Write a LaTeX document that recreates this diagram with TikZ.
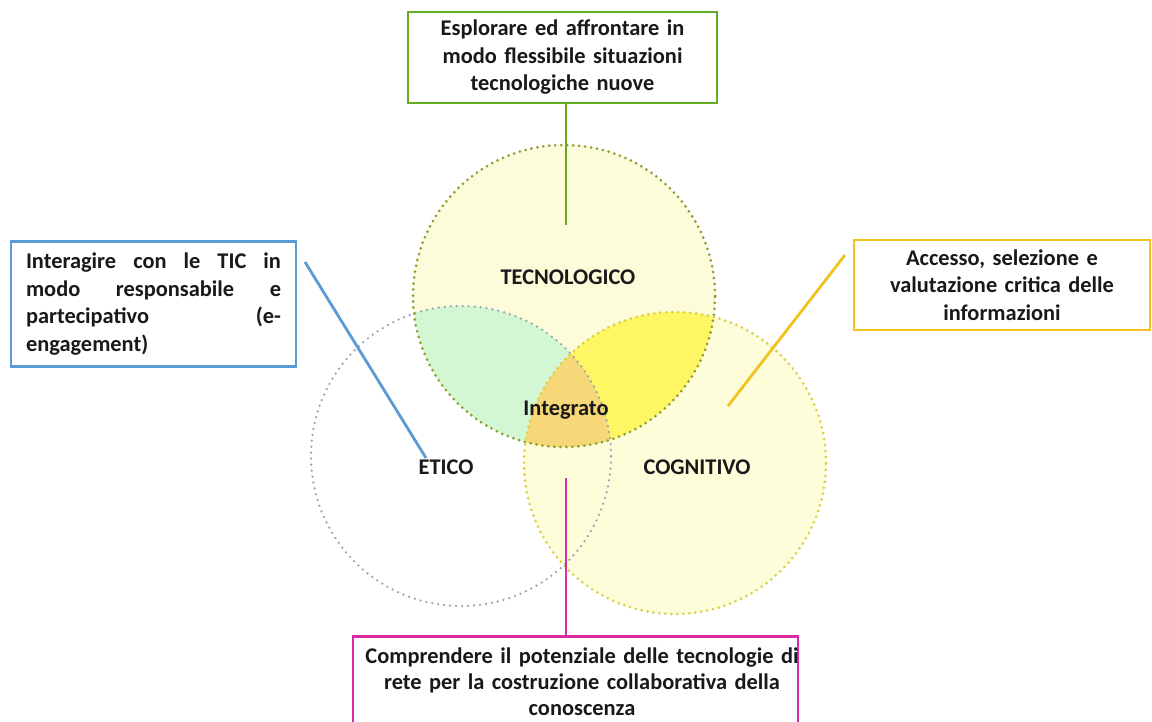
\documentclass[tikz,border=0pt]{standalone}
\usepackage{fontspec}
\setmainfont{Carlito}
\definecolor{tecfill}{HTML}{FCFBDA}
\definecolor{cogfill}{HTML}{FDFDDA}
\definecolor{tegreen}{HTML}{D3F6D3}
\definecolor{tcyellow}{HTML}{FEF763}
\definecolor{triple}{HTML}{F6D878}
\definecolor{tecline}{HTML}{8E9F30}
\definecolor{ethline}{HTML}{90A6B4}
\definecolor{cogline}{HTML}{DCCF48}
\definecolor{cgreen}{HTML}{62AE22}
\definecolor{cblue}{HTML}{5B9BD5}
\definecolor{corange}{HTML}{F2C21E}
\definecolor{cmagenta}{HTML}{DA2AA4}
\begin{document}
\begin{tikzpicture}[x=1pt,y=-1pt,
  txt/.style={font=\fontsize{22.4}{27.5}\selectfont\bfseries, text=black!90},
  box/.style={txt, draw, line width=2.6pt, fill=white, inner sep=0pt},
  conn/.style={line width=2.8pt},
  dots/.style={line width=3pt, dash pattern=on 0pt off 6pt, line cap=round}]
\useasboundingbox[fill=white] (0,0) rectangle (1152,722);
% circle centres
\coordinate (cT) at (564,296);
\coordinate (cE) at (461,456);
\coordinate (cC) at (675,463);
% fills
\fill[white] (cE) circle[radius=150pt];
\fill[cogfill] (cC) circle[radius=151pt];
\fill[tecfill] (cT) circle[radius=151pt];
\begin{scope}
  \clip (cT) circle[radius=151pt];
  \fill[tegreen] (cE) circle[radius=150pt];
  \fill[tcyellow] (cC) circle[radius=151pt];
  \begin{scope}
    \clip (cE) circle[radius=150pt];
    \fill[triple] (cC) circle[radius=151pt];
  \end{scope}
\end{scope}
% outlines
\draw[dots, ethline, line width=2.5pt] (cE) circle[radius=150pt];
\draw[dots, cogline] (cC) circle[radius=151pt];
\draw[dots, tecline] (cT) circle[radius=151pt];
% labels
\node[txt] (lT) at (568,277) {TECNOLOGICO};
\node[txt] (lI) at (566,410) {Integrato};
\node[txt] (lE) at (446,467) {ETICO};
\node[txt] (lC) at (697,467) {COGNITIVO};
% boxes
\node[box, draw=cgreen, minimum width=309pt, minimum height=91pt, text width=300pt, align=center] (bT) at (562.5,57.5)
  {Esplorare ed affrontare in\\ modo flessibile situazioni\\ tecnologiche nuove};
\node[box, draw=cblue, minimum width=285pt, minimum height=125pt, text width=255pt, align=left] (bE) at (153.5,304)
  {\leavevmode\hbox to 255pt{Interagire\hfill con\hfill le\hfill TIC\hfill in}\\
   \leavevmode\hbox to 255pt{modo\hfill responsabile\hfill e}\\
   \leavevmode\hbox to 255pt{partecipativo\hfill (e-}\\
   engagement)};
\node[box, draw=corange, minimum width=296pt, minimum height=90pt, text width=290pt, align=center] (bC) at (1002,285)
  {Accesso, selezione e\\ valutazione critica delle\\ informazioni};
\node[box, draw=cmagenta, minimum width=445pt, minimum height=110pt, anchor=north] (bM) at (575.5,635) {};
\node[txt, font=\fontsize{22.4}{26}\selectfont\bfseries, anchor=north, text width=445pt, align=center] (tM) at (582,644)
  {Comprendere il potenziale delle tecnologie di\\ rete per la costruzione collaborativa della\\ conoscenza};
% connectors
\coordinate (eT) at (566,225);
\draw[conn, cgreen] (bT.south -| eT) -- (eT);
\coordinate (sE) at (305,262);
\coordinate (eE) at (426,458);
\draw[conn, cblue] (sE) -- (eE);
\coordinate (sC) at (845,255);
\coordinate (eC) at (728,406);
\draw[conn, corange] (sC) -- (eC);
\coordinate (eM) at (566,478);
\draw[conn, cmagenta] (eM) -- (bM.north -| eM);
\end{tikzpicture}
\end{document}
